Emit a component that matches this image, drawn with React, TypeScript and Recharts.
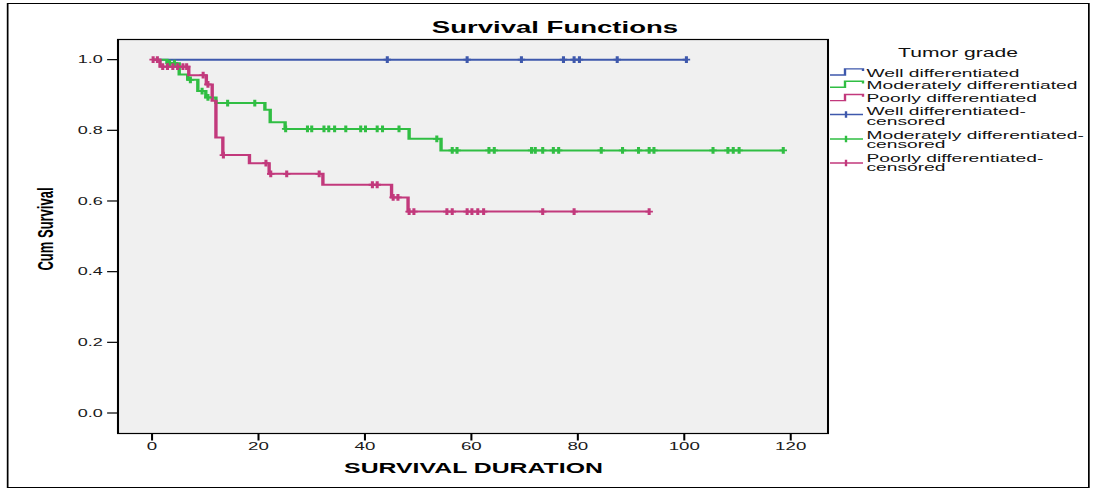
import { ComposedChart, Line, Scatter, XAxis, YAxis, CartesianGrid } from 'recharts'

// the reference is an SPSS plot stretched sideways, so draw narrow and scale X
const STRETCH = 1.7
const IW = 1094 / STRETCH
const IH = 492

const FONT = "'Liberation Sans', Arial, sans-serif"
const BLUE = '#3e58ac'
const GREEN = '#30be43'
const PINK = '#c2397c'

// Kaplan-Meier steps: time of each drop and survival after it
const wellTimes = [0]
const wellSurv = [1]
const wellEnd = 100.4
const wellCensored = [44.2, 59.2, 69.4, 77.3, 79.3, 80.3, 87.4, 100.4]

const modTimes = [0, 2.8, 5.1, 6.7, 8.6, 10.1, 12.0, 21.2, 22.2, 25.0, 48.3, 54.3]
const modSurv = [1, 0.99, 0.958, 0.943, 0.911, 0.893, 0.877, 0.858, 0.823, 0.804, 0.776, 0.743]
const modEnd = 118.6
const modCensored = [
  3.3, 4.2, 7.2, 9.4, 10.5, 14.2, 19.3, 25.1, 29.2, 30.0, 32.3, 33.2, 34.3, 36.4, 39.2, 40.1,
  42.3, 43.3, 46.4, 53.5, 56.4, 57.3, 63.3, 64.3, 71.3, 72.0, 73.4, 75.4, 76.4, 84.4, 88.4,
  91.4, 93.4, 94.3, 105.4, 108.2, 109.2, 110.3, 118.6,
]

const poorTimes = [0, 1.5, 6.9, 10.2, 11.3, 12.0, 13.3, 18.3, 22.0, 32.1, 45.0, 48.1]
const poorSurv = [1, 0.98, 0.956, 0.93, 0.884, 0.78, 0.73, 0.707, 0.677, 0.646, 0.61, 0.57]
const poorEnd = 93.4
const poorCensored = [
  0.2, 1.0, 2.0, 2.9, 3.9, 4.8, 5.8, 6.5, 9.6, 10.5, 13.4, 21.4, 22.3, 25.3, 31.4, 41.4, 42.3,
  45.3, 46.2, 48.3, 49.2, 55.4, 56.4, 59.2, 60.1, 61.2, 62.3, 73.4, 79.3, 93.4,
]

const xTicks = [0, 20, 40, 60, 80, 100, 120]
const yTicks = [0, 0.2, 0.4, 0.6, 0.8, 1.0]
const X_DOMAIN = [-6.4, 127]
const Y_DOMAIN = [-0.058, 1.057]

const legendItems = [
  { color: BLUE, lines: ['Well differentiated'], kind: 'step' },
  { color: GREEN, lines: ['Moderately differentiated'], kind: 'step' },
  { color: PINK, lines: ['Poorly differentiated'], kind: 'step' },
  { color: BLUE, lines: ['Well differentiated-', 'censored'], kind: 'cens' },
  { color: GREEN, lines: ['Moderately differentiated-', 'censored'], kind: 'cens' },
  { color: PINK, lines: ['Poorly differentiated-', 'censored'], kind: 'cens' },
]
// text row centres (page px) for the legend lines
const legendRows = [[72.7], [85], [98.3], [111, 120.7], [134.8, 144.3], [157.7, 167.3]]
const legendSymY = [72.7, 85, 98.3, 114.5, 139, 163]

function curve(times: number[], surv: number[], end: number) {
  const pts = times.map((t, i) => ({ t, s: surv[i] }))
  pts.push({ t: end, s: surv[surv.length - 1] })
  return pts
}

function survAt(t: number, times: number[], surv: number[]) {
  let s = surv[0]
  times.forEach((tt, i) => {
    if (tt <= t) s = surv[i]
  })
  return s
}

function marks(cens: number[], times: number[], surv: number[]) {
  return cens.map((t) => ({ t, s: survAt(t, times, surv) }))
}

const plus = (color: string) => (props: any) => {
  const { cx, cy } = props
  return (
    <path
      d={`M${cx - 2.2},${cy} H${cx + 2.2} M${cx},${cy - 3.4} V${cy + 3.4}`}
      stroke={color}
      strokeWidth={1.8}
      fill="none"
    />
  )
}

// plot box in the narrow (unstretched) space
const PLOT_L = 118 / STRETCH
const PLOT_R = 828 / STRETCH
const PLOT_T = 39.5
const PLOT_B = 433.5
const Y_W = 40
const X_H = 40

export default function App() {
  const x = (px: number) => px / STRETCH
  return (
    <div style={{ position: 'absolute', left: 0, top: 0, width: 1094, height: IH, background: '#fff', overflow: 'hidden' }}>
      <div
        style={{
          position: 'absolute', left: 0, top: 0, width: IW, height: IH,
          transform: `scaleX(${STRETCH})`, transformOrigin: '0 0',
        }}
      >
        <div
          style={{
            position: 'absolute', left: x(7), top: 3, width: x(1090) - x(7), height: 485,
            border: '1.5px solid #000', boxSizing: 'border-box',
          }}
        />
        <div style={{ position: 'absolute', left: 0, top: 0 }}>
          <ComposedChart
            width={IW}
            height={IH}
            margin={{ top: PLOT_T, left: PLOT_L - Y_W, right: IW - PLOT_R, bottom: IH - PLOT_B - X_H }}
          >
            <CartesianGrid fill="#f0f0f0" horizontal={false} vertical={false} />
            <XAxis
              type="number"
              dataKey="t"
              domain={X_DOMAIN}
              ticks={xTicks}
              allowDataOverflow
              height={X_H}
              tickSize={7}
              tickMargin={2}
              axisLine={{ stroke: '#000', strokeWidth: 1.2 }}
              tickLine={{ stroke: '#000', strokeWidth: 1.2 }}
              tick={{ fontSize: 11, fill: '#1a1a1a', fontFamily: FONT }}
            />
            <YAxis
              type="number"
              domain={Y_DOMAIN}
              ticks={yTicks}
              allowDataOverflow
              width={Y_W}
              tickSize={6.4}
              tickMargin={2.6}
              tickFormatter={(v: number) => v.toFixed(1)}
              axisLine={{ stroke: '#000', strokeWidth: 1.2 }}
              tickLine={{ stroke: '#000', strokeWidth: 1.2 }}
              tick={{ fontSize: 10.6, fill: '#1a1a1a', fontFamily: FONT }}
            />
            <Line data={curve(wellTimes, wellSurv, wellEnd)} dataKey="s" type="stepAfter" stroke={BLUE} strokeWidth={2} dot={false} activeDot={false} isAnimationActive={false} />
            <Line data={curve(modTimes, modSurv, modEnd)} dataKey="s" type="stepAfter" stroke={GREEN} strokeWidth={2} dot={false} activeDot={false} isAnimationActive={false} />
            <Line data={curve(poorTimes, poorSurv, poorEnd)} dataKey="s" type="stepAfter" stroke={PINK} strokeWidth={2} dot={false} activeDot={false} isAnimationActive={false} />
            <Scatter data={marks(wellCensored, wellTimes, wellSurv)} dataKey="s" shape={plus(BLUE)} isAnimationActive={false} />
            <Scatter data={marks(modCensored, modTimes, modSurv)} dataKey="s" shape={plus(GREEN)} isAnimationActive={false} />
            <Scatter data={marks(poorCensored, poorTimes, poorSurv)} dataKey="s" shape={plus(PINK)} isAnimationActive={false} />
          </ComposedChart>
        </div>
        <svg
          width={IW}
          height={IH}
          style={{ position: 'absolute', left: 0, top: 0, pointerEvents: 'none' }}
          fontFamily={FONT}
        >
          <rect x={PLOT_L} y={PLOT_T} width={PLOT_R - PLOT_L} height={PLOT_B - PLOT_T} fill="none" stroke="#000" strokeWidth={1.2} />
          <text x={x(555)} y={33.4} textAnchor="middle" fontSize={16.2} fontWeight="bold" fill="#000">
            Survival Functions
          </text>
          <text x={x(473.5)} y={473.5} textAnchor="middle" fontSize={14.6} fontWeight="bold" fill="#000">
            SURVIVAL DURATION
          </text>
          <text transform={`translate(${x(53)},229) rotate(-90)`} textAnchor="middle" fontSize={13} fontWeight="bold" fill="#000">
            Cum Survival
          </text>
          <text x={x(958)} y={57} textAnchor="middle" fontSize={12.4} fill="#111">
            Tumor grade
          </text>
          {legendItems.map((item, i) => {
            const sy = legendSymY[i]
            return (
              <g key={i}>
                {item.kind === 'step' ? (
                  <path
                    d={`M${x(830)},${sy + 2.3} H${x(845)} V${sy - 3.8} H${x(863)} V${sy - 1.6}`}
                    stroke={item.color}
                    strokeWidth={1.4}
                    fill="none"
                  />
                ) : (
                  <path
                    d={`M${x(830)},${sy} H${x(863)} M${x(846)},${sy - 3.3} V${sy + 3.3}`}
                    stroke={item.color}
                    strokeWidth={1.4}
                    fill="none"
                  />
                )}
                {item.lines.map((ln, j) => (
                  <text key={j} x={x(866.5)} y={legendRows[i][j] + 4} fontSize={11.3} fill="#111">
                    {ln}
                  </text>
                ))}
              </g>
            )
          })}
        </svg>
      </div>
    </div>
  )
}
